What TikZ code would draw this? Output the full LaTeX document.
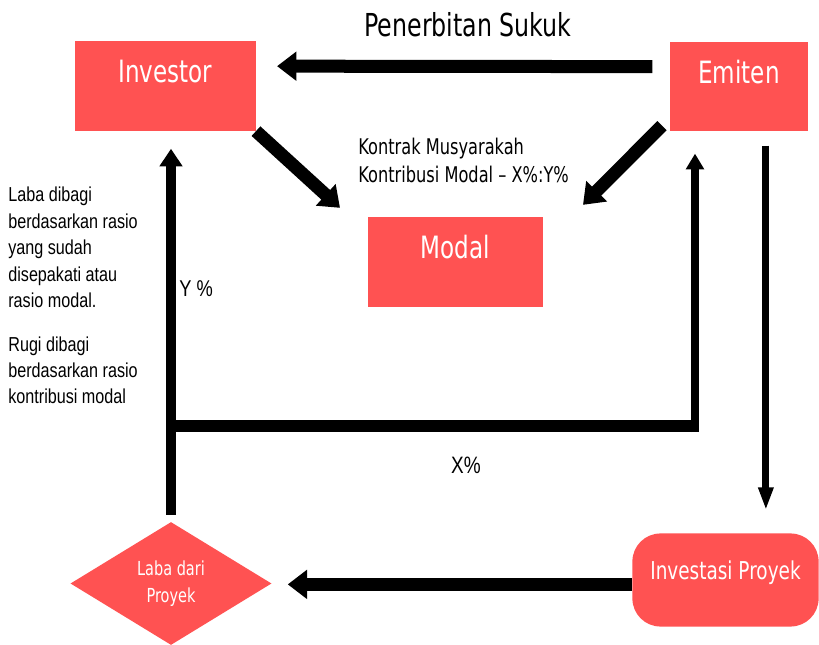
\documentclass[tikz,border=0pt]{standalone}
\usepackage{fontspec}
\usetikzlibrary{shapes, arrows.meta}
\newfontfamily\boxfont[FakeStretch=0.75]{DejaVu Sans}
\newfontfamily\notefont[FakeStretch=0.8]{Liberation Sans}
\definecolor{boxred}{RGB}{255,82,82}

\tikzset{
	box/.style={rectangle, fill=boxred, text=white, minimum height=51pt, font=\boxfont\fontsize{17.5}{20}\selectfont, text height=14pt, text depth=17.5pt},
	fat/.style={line width=7.4pt, -{Triangle[length=11pt,width=16pt]}},
	upline/.style={line width=5.7pt, -{Triangle[length=10pt,width=12.5pt]}},
	slimup/.style={line width=4.4pt, -{Triangle[length=9pt,width=10pt]}},
	slimdown/.style={line width=4pt, -{Triangle[length=13pt,width=8pt]}},
	note/.style={inner sep=0, align=left, font=\notefont\fontsize{11.5}{15}\selectfont}
}

\begin{document}
\begin{tikzpicture}[x=0.02cm, y=-0.02cm]
	\useasboundingbox (0, 0) rectangle (819, 645);

	\foreach \nm/\txt/\x/\y/\w in {investor/Investor/165.5/86/102.6, emiten/Emiten/739/86.5/78.2, modal/Modal/455.5/262/99.2}{
		\node[box, minimum width=\w pt] (\nm) at (\x, \y) {\txt};
	}

	\node[diamond, fill=boxred, text=white, inner sep=0, minimum width=114.5pt, minimum height=70pt, align=center, font=\boxfont\fontsize{11}{15}\selectfont] (laba) at (171, 583.5) {Laba dari\\Proyek};
	\node[rectangle, rounded corners=16pt, fill=boxred, text=white, minimum width=106pt, minimum height=53pt, text height=10.5pt, text depth=11.5pt, font=\boxfont\fontsize{14}{16}\selectfont] (proyek) at (725.5, 580) {Investasi Proyek};

	\node[inner sep=0, font=\boxfont\fontsize{18}{20}\selectfont] (sukuk) at (468, 25) {Penerbitan Sukuk};
	\node[inner sep=0, anchor=base west, align=left, font=\boxfont\fontsize{12.3}{16}\selectfont] (kontrak) at (358, 183) {Kontrak Musyarakah\\Kontribusi Modal – X\%:Y\%};
	\node[note, anchor=base west] (rasio) at (8, 404) {Laba dibagi\\berdasarkan rasio\\yang sudah\\disepakati atau\\rasio modal.\\[10pt]Rugi dibagi\\berdasarkan rasio\\kontribusi modal};
	\node[note, anchor=base west, font=\notefont\fontsize{13}{15}\selectfont] (ypct) at (179, 297) {Y \%};
	\node[inner sep=0, font=\notefont\fontsize{13.5}{16}\selectfont] (xpct) at (466, 465) {X\%};

	\coordinate (split) at (171, 426);
	\coordinate (turn) at (695, 426);
	\coordinate (drop) at ([xshift=15.3pt]emiten.south);

	\draw[fat, shorten <=10pt, shorten >=12pt] ([yshift=11.3pt]emiten.west) -- ([yshift=11.3pt]investor.east);
	\draw[fat] (investor.south east) -- ([shift={(-28,-9)}]modal.north west);
	\draw[fat] ([shift={(-8,-6)}]emiten.south west) -- ([shift={(40,-12)}]modal.north east);
	\draw[upline, shorten <=4pt, shorten >=10pt] (laba.north) -- (laba.north |- investor.south);
	\draw[line width=7pt] ([xshift=-2.8pt]split) -- ([xshift=2.2pt]turn);
	\draw[slimup, shorten >=12.5pt] ([yshift=-3.5pt]turn) -- (turn |- emiten.south);
	\draw[slimdown, shorten <=8pt, shorten >=13pt] (drop) -- (drop |- proyek.north);
	\draw[fat, shorten >=9pt] ([yshift=-2.5pt]proyek.west) -- ([yshift=-2.5pt]proyek.west -| laba.east);
\end{tikzpicture}
\end{document}
